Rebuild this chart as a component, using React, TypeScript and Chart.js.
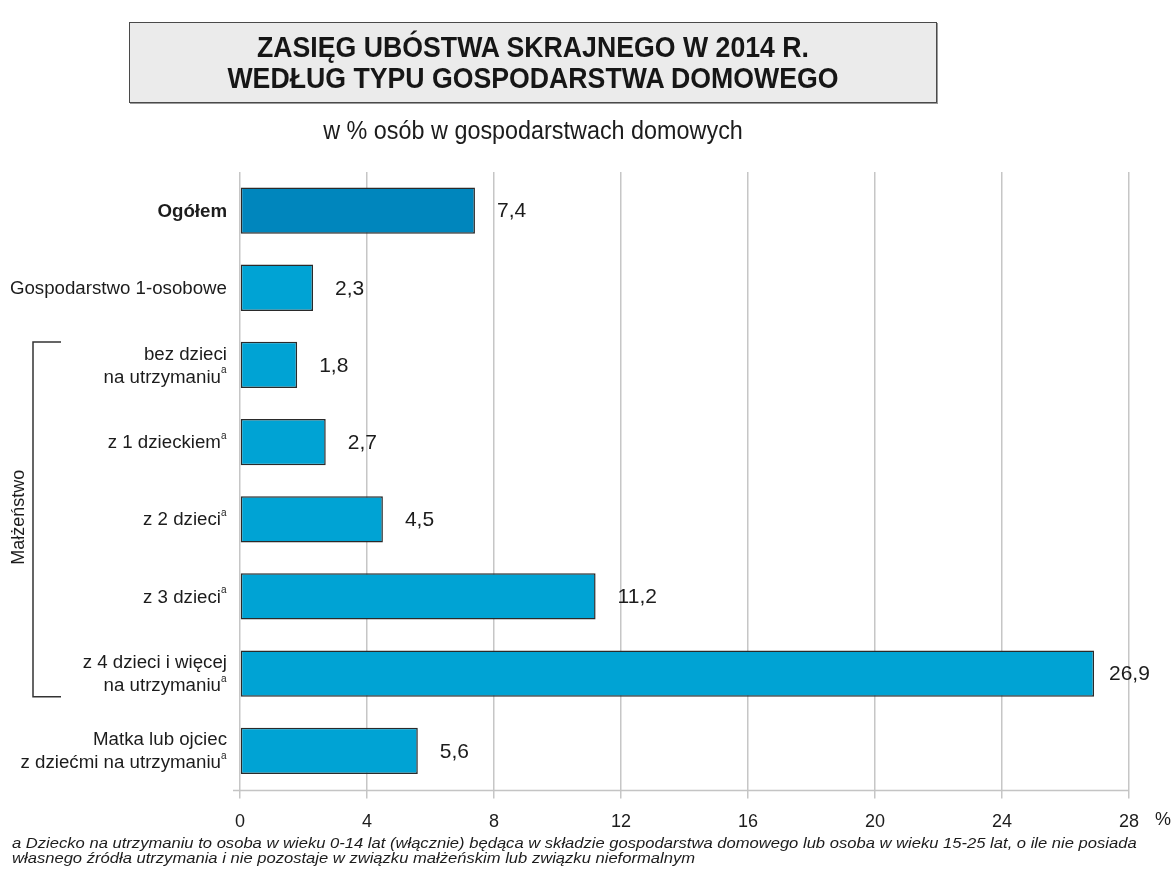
import React, { useEffect, useRef } from "react";
import { Chart, registerables } from "chart.js";

Chart.register(...registerables);

// ---- data ----
const categoryLines: string[][] = [
  ["Ogółem"],
  ["Gospodarstwo 1-osobowe"],
  ["bez dzieci", "na utrzymaniu"],
  ["z 1 dzieckiem"],
  ["z 2 dzieci"],
  ["z 3 dzieci"],
  ["z 4 dzieci i więcej", "na utrzymaniu"],
  ["Matka lub ojciec", "z dziećmi na utrzymaniu"],
];
const footnoteMarks: boolean[] = [false, false, true, true, true, true, true, true];
const values: number[] = [7.4, 2.3, 1.8, 2.7, 4.5, 11.2, 26.9, 5.6];
const valueLabels: string[] = ["7,4", "2,3", "1,8", "2,7", "4,5", "11,2", "26,9", "5,6"];
const boldCategories: boolean[] = [true, false, false, false, false, false, false, false];
const xMin = 0;
const xMax = 28;
const xStep = 4;
const axisUnit = "%";
const groupLabel = "Małżeństwo";
const groupFirst = 2;
const groupLast = 6;
const titleLines: string[] = [
  "ZASIĘG UBÓSTWA SKRAJNEGO W 2014 R.",
  "WEDŁUG TYPU GOSPODARSTWA DOMOWEGO",
];
const subtitle = "w % osób w gospodarstwach domowych";
const footnoteLines: string[] = [
  "a Dziecko na utrzymaniu to osoba w wieku 0-14 lat (włącznie) będąca w składzie gospodarstwa domowego lub osoba w wieku 15-25 lat, o ile nie posiada",
  "własnego źródła utrzymania i nie pozostaje w związku małżeńskim lub związku nieformalnym",
];

const FONT = "'Liberation Sans', Arial, Helvetica, sans-serif";
const TEXT = "#1c1c1c";

const decorations = {
  id: "decorations",
  afterDatasetsDraw(chart: any) {
    const { ctx, chartArea, scales } = chart;
    const x = scales.x;
    const y = scales.y;
    ctx.save();

    // axis line
    ctx.strokeStyle = "#c4c4c4";
    ctx.lineWidth = 1.5;
    ctx.beginPath();
    ctx.moveTo(chartArea.left - 7, chartArea.bottom + 1);
    ctx.lineTo(chartArea.right, chartArea.bottom + 1);
    ctx.stroke();

    // value labels
    ctx.fillStyle = TEXT;
    ctx.font = `21px ${FONT}`;
    ctx.textAlign = "left";
    ctx.textBaseline = "middle";
    values.forEach((v, i) => {
      const px = Math.min(x.getPixelForValue(v) + 22, chartArea.right - 20);
      ctx.fillText(valueLabels[i], px, y.getPixelForValue(i) + 1);
    });

    // category labels
    const rightEdge = chartArea.left - 13;
    const lineH = 23;
    categoryLines.forEach((lines, i) => {
      const cy = y.getPixelForValue(i);
      const n = lines.length;
      lines.forEach((line, j) => {
        const ly = cy + (j - (n - 1) / 2) * lineH + 1;
        const mark = footnoteMarks[i] && j === n - 1;
        let supW = 0;
        if (mark) {
          ctx.font = `10px ${FONT}`;
          supW = ctx.measureText("a").width + 0.5;
          ctx.textAlign = "left";
          ctx.fillText("a", rightEdge - supW, ly - 7);
        }
        ctx.font = `${boldCategories[i] ? "bold " : ""}18.7px ${FONT}`;
        ctx.textAlign = "right";
        ctx.fillText(line, rightEdge - supW, ly);
      });
    });

    // group bracket
    const top = y.getPixelForValue(groupFirst) - 23;
    const bottom = y.getPixelForValue(groupLast) + 23;
    ctx.strokeStyle = "#333";
    ctx.lineWidth = 1.5;
    ctx.beginPath();
    ctx.moveTo(61, top);
    ctx.lineTo(33, top);
    ctx.lineTo(33, bottom);
    ctx.lineTo(61, bottom);
    ctx.stroke();
    ctx.save();
    ctx.translate(19, (top + bottom) / 2 - 2);
    ctx.rotate(-Math.PI / 2);
    ctx.font = `18px ${FONT}`;
    ctx.textAlign = "center";
    ctx.textBaseline = "middle";
    ctx.fillStyle = TEXT;
    ctx.fillText(groupLabel, 0, 0);
    ctx.restore();

    // unit
    ctx.font = `18px ${FONT}`;
    ctx.textAlign = "center";
    ctx.textBaseline = "middle";
    ctx.fillText(axisUnit, chartArea.right + 34, chartArea.bottom + 31);

    ctx.restore();
  },
};

export default function App() {
  const ref = useRef<HTMLCanvasElement | null>(null);

  useEffect(() => {
    if (!ref.current) return;
    const chart = new Chart(ref.current, {
      type: "bar",
      data: {
        labels: categoryLines.map((l) => l.join(" ")),
        datasets: [
          {
            data: values,
            backgroundColor: values.map((_, i) => (i === 0 ? "#0086bd" : "#00a3d4")),
            borderColor: "#2a2a2a",
            borderWidth: 1.5,
            borderSkipped: false,
            barPercentage: 0.6,
            categoryPercentage: 1,
          },
        ],
      },
      options: {
        indexAxis: "y",
        responsive: false,
        animation: false,
        layout: { padding: { left: 240, right: 45, top: 172, bottom: 32 } },
        plugins: {
          legend: { display: false },
          tooltip: { enabled: false },
          title: { display: false },
        },
        scales: {
          x: {
            type: "linear",
            position: "bottom",
            min: xMin,
            max: xMax,
            ticks: {
              stepSize: xStep,
              font: { size: 18, family: FONT },
              color: TEXT,
              padding: 13,
            },
            grid: {
              color: "#c6c6c6",
              lineWidth: 1.5,
              drawTicks: true,
              tickLength: 9,
              tickColor: "#c6c6c6",
            },
            border: { display: false },
          },
          y: {
            type: "category",
            display: false,
            offset: true,
            grid: { display: false },
          },
        },
      },
      plugins: [decorations],
    });
    return () => chart.destroy();
  }, []);

  return (
    <div
      style={{
        position: "fixed",
        left: 0,
        top: 0,
        width: 1174,
        height: 878,
        background: "#fff",
        overflow: "hidden",
        fontFamily: FONT,
        color: TEXT,
      }}
    >
      <canvas
        ref={ref}
        width={1174}
        height={878}
        style={{ position: "absolute", left: 0, top: 0, display: "block" }}
      />
      <div
        style={{
          position: "absolute",
          left: 129,
          top: 22,
          width: 808,
          height: 81,
          boxSizing: "border-box",
          background: "#ebebeb",
          border: "1px solid #4a4a4a",
          boxShadow: "1px 1px 0 #9a9a9a",
        }}
      >
        {titleLines.map((t, i) => (
          <div
            key={i}
            style={{
              position: "absolute",
              left: 0,
              width: "100%",
              top: 9 + i * 31,
              height: 31,
              lineHeight: "31px",
              textAlign: "center",
              fontWeight: "bold",
              fontSize: 29,
              whiteSpace: "nowrap",
              transform: "scaleX(0.92)",
              color: "#161616",
            }}
          >
            {t}
          </div>
        ))}
      </div>
      <div
        style={{
          position: "absolute",
          left: 0,
          width: 1066,
          top: 114,
          height: 32,
          lineHeight: "32px",
          textAlign: "center",
          fontSize: 25,
          whiteSpace: "nowrap",
          transform: "scaleX(0.935)",
          transformOrigin: "533px 16px",
        }}
      >
        {subtitle}
      </div>
      <div
        style={{
          position: "absolute",
          left: 12,
          top: 835,
          fontSize: 15.5,
          lineHeight: "15px",
          fontStyle: "italic",
          whiteSpace: "nowrap",
          transform: "scaleX(1.07)",
          transformOrigin: "0 0",
        }}
      >
        {footnoteLines.map((l, i) => (
          <div key={i}>{l}</div>
        ))}
      </div>
    </div>
  );
}
